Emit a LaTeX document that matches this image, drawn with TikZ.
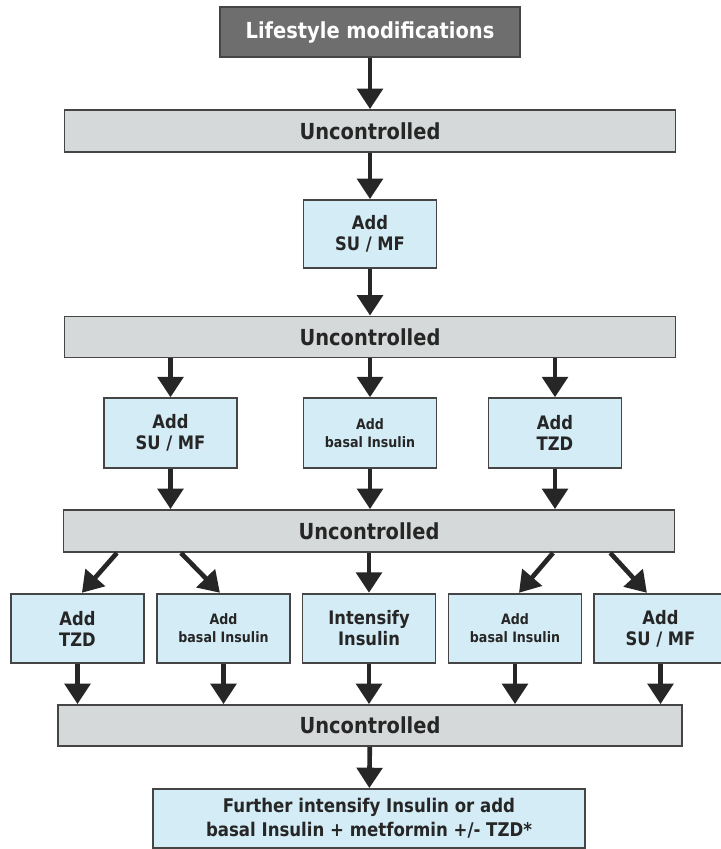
\documentclass[tikz,border=0pt]{standalone}
\usepackage{fontspec}
\setmainfont{DejaVu Sans}[FakeStretch=0.88]
\usetikzlibrary{arrows.meta}

\definecolor{topgray}{HTML}{6E6E6E}
\definecolor{bargray}{HTML}{D6D9D9}
\definecolor{boxblue}{HTML}{D4ECF6}
\definecolor{edgegray}{HTML}{454545}
\definecolor{inkgray}{HTML}{262626}

\tikzset{
  topbox/.style={draw=edgegray, line width=1.3pt, fill=topgray, text=white,
    font=\bfseries\fontsize{15.7}{18}\selectfont,
    minimum width=7.5cm, minimum height=1.25cm, inner sep=0pt},
  ucbar/.style={draw=edgegray, line width=1.3pt, fill=bargray, text=inkgray,
    font=\bfseries\fontsize{15.7}{18}\selectfont,
    minimum width=15.275cm, minimum height=1.05cm, inner sep=0pt},
  drugbox/.style={draw=edgegray, line width=1.3pt, fill=boxblue, text=inkgray,
    font=\bfseries\fontsize{13.2}{15}\selectfont, align=center,
    minimum width=3.325cm, minimum height=1.74cm, inner sep=0pt},
  smalltext/.style={font=\bfseries\fontsize{10.2}{13}\selectfont},
  arr/.style={draw=inkgray, line width=3.3pt, -{Triangle[width=18pt,length=14.5pt]}}
}

\begin{document}
\begin{tikzpicture}[x=0.025cm,y=-0.025cm]
  \useasboundingbox (0,0) rectangle (721,849);
  \node[topbox] (life) at (370,32) {Lifestyle modifications};
  \node[ucbar] (unc1) at (370,131) {Uncontrolled};
  \node[drugbox,minimum height=1.7cm] (su1) at (370,234) {Add\\SU / MF};
  \node[ucbar,minimum height=1.025cm] (unc2) at (370,337) {Uncontrolled};
  % second line of choices
  \node[drugbox] (su2) at (170.5,433) {Add\\SU / MF};
  \node[drugbox,smalltext] (ins2) at (370,433) {Add\\basal Insulin};
  \node[drugbox] (tzd2) at (555,433) {Add\\TZD};
  \node[ucbar] (unc3) at (369,531) {Uncontrolled};
  % third line of choices
  \node[drugbox] (tzd3) at (77.5,628.5) {Add\\TZD};
  \node[drugbox,smalltext] (ins3a) at (223.5,628.5) {Add\\basal Insulin};
  \node[drugbox] (int3) at (369,628.5) {Intensify\\Insulin};
  \node[drugbox,smalltext] (ins3b) at (515,628.5) {Add\\basal Insulin};
  \node[drugbox] (su3) at (660.5,628.5) {Add\\SU / MF};
  \node[ucbar,minimum width=15.6cm,minimum height=1.025cm] (unc4) at (370,725.5) {Uncontrolled};
  \node[drugbox,minimum width=10.8cm,minimum height=1.475cm,
    font=\bfseries\fontsize{13.4}{17}\selectfont] (final) at (369,818.5)
    {Further intensify Insulin or add\\basal Insulin + metformin +/- TZD*};

  \draw[arr] (life) -- (unc1);
  \draw[arr] (unc1) -- (su1);
  \draw[arr] (su1) -- (unc2);
  \foreach \n in {su2,ins2,tzd2} {
    \draw[arr] (unc2.south -| \n) -- (\n);
    \draw[arr] (\n) -- (\n |- unc3.north);
  }
  \draw[arr] ([xshift=-6.3cm]unc3.south) -- ([xshift=0.11cm]tzd3.north);
  \draw[arr] ([xshift=-4.7cm]unc3.south) -- ([xshift=-0.09cm]ins3a.north);
  \draw[arr] (unc3) -- (int3);
  \draw[arr] ([xshift=4.6cm]unc3.south) -- ([xshift=0.1cm]ins3b.north);
  \draw[arr] ([xshift=6.03cm]unc3.south) -- ([xshift=-0.34cm]su3.north);
  \foreach \n in {tzd3,ins3a,int3,ins3b,su3}
    \draw[arr] (\n) -- (\n |- unc4.north);
  \draw[arr] (unc4) -- (final);
\end{tikzpicture}
\end{document}
